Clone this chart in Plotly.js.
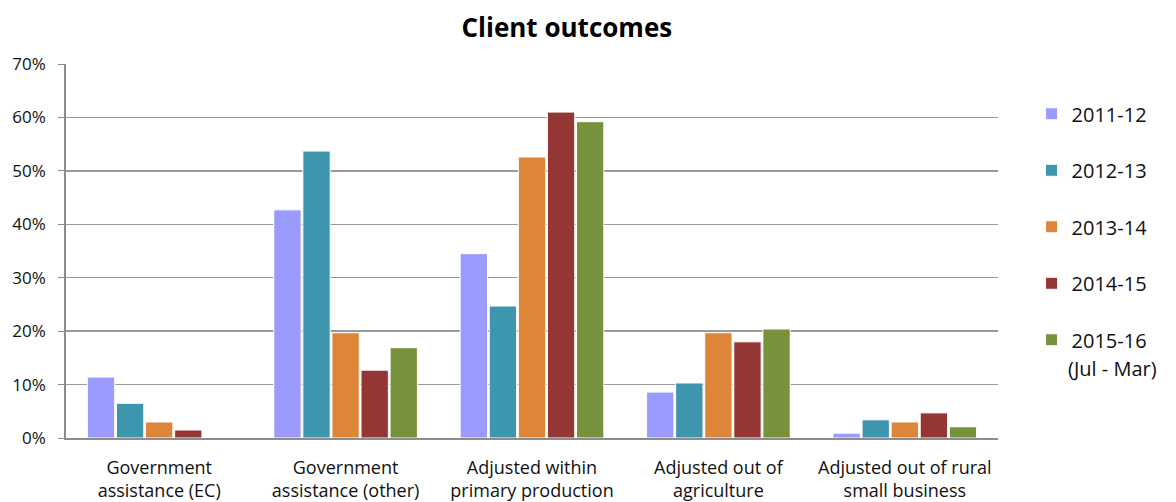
<!DOCTYPE html>
<html>
<head>
<meta charset="utf-8">
<script src="https://cdn.plot.ly/plotly-3.0.1.min.js"></script>
<style>html,body{margin:0;padding:0;background:#fff;}#chart{width:1176px;height:502px;}</style>
</head>
<body>
<div id="chart"></div>
<script>
const categories = [
  "Government<br>assistance (EC)",
  "Government<br>assistance (other)",
  "Adjusted within<br>primary production",
  "Adjusted out of<br>agriculture",
  "Adjusted out of rural<br>small business"
];
const seriesNames = ["2011-12", "2012-13", "2013-14", "2014-15", "2015-16"];
const lastNameNote = "(Jul - Mar)";
const v2011_12 = [0.114, 0.427, 0.345, 0.086, 0.009];
const v2012_13 = [0.065, 0.537, 0.247, 0.103, 0.034];
const v2013_14 = [0.030, 0.197, 0.526, 0.197, 0.030];
const v2014_15 = [0.015, 0.127, 0.610, 0.180, 0.047];
const v2015_16 = [0, 0.169, 0.592, 0.204, 0.021];
const seriesValues = [v2011_12, v2012_13, v2013_14, v2014_15, v2015_16];
const colors = ["#9B9BFF", "#3D96AE", "#DD8539", "#943634", "#76923C"];

const font = "'Open Sans', sans-serif";
const traces = seriesNames.map((n, i) => ({
  type: "bar",
  name: n,
  x: categories,
  y: seriesValues[i],
  legendgroup: "g" + i,
  marker: {color: colors[i], line: {color: "#ffffff", width: 1}},
  hoverinfo: "y"
}));

const layout = {
  width: 1176, height: 502,
  margin: {l: 66, r: 178, t: 64, b: 64},
  paper_bgcolor: "#fff", plot_bgcolor: "#fff",
  title: {text: "<b>Client outcomes</b>", font: {family: font, size: 26, color: "#000"},
          x: 0.482, xanchor: "center", y: 0.945, yanchor: "middle"},
  barmode: "group", bargap: 0.22, bargroupgap: 0.06,
  font: {family: font, size: 17, color: "#111"},
  xaxis: {showline: true, linecolor: "#8c8c8c", linewidth: 2, ticks: "", tickfont: {size: 18, color: "#111"},
          ticklabelstandoff: 12, fixedrange: true},
  yaxis: {range: [0, 0.7], dtick: 0.1, tickformat: ".0%", showgrid: true, gridcolor: "#9a9a9a", gridwidth: 1.5,
          showline: true, linecolor: "#8c8c8c", linewidth: 2, ticks: "outside", ticklen: 6, tickcolor: "#8c8c8c",
          tickfont: {size: 17, color: "#111"}, zeroline: false, ticksuffix: "  "},
  legend: {x: 1.036, xanchor: "left", y: 0.919, yanchor: "top", traceorder: "grouped", tracegroupgap: 27.5,
           font: {family: font, size: 20, color: "#111"}, itemwidth: 30, bgcolor: "rgba(0,0,0,0)"},
  annotations: [{text: lastNameNote, xref: "paper", yref: "paper", x: 1.0725, xanchor: "left",
                 y: 0.185, yanchor: "middle", showarrow: false, font: {family: font, size: 20, color: "#111"}}],
  showlegend: true
};

Plotly.newPlot("chart", traces, layout, {displayModeBar: false, staticPlot: true});
</script>
</body>
</html>
